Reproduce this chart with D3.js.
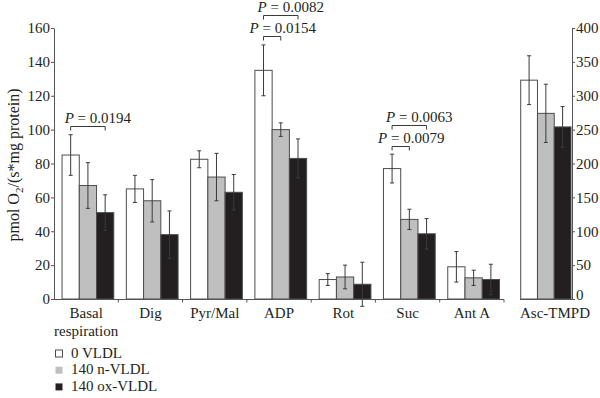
<!DOCTYPE html>
<html>
<head>
<meta charset="utf-8">
<script src="https://cdn.jsdelivr.net/npm/d3@7"></script>
<style>
  body { margin: 0; background: #fff; }
  svg { display: block; font-family: "Liberation Serif", "DejaVu Serif", serif; }
  .axis path, .axis line { stroke: #555; }
  .axis text { font-family: "Liberation Serif", serif; font-size: 15px; fill: #231f20; }
</style>
</head>
<body>
<svg id="chart" width="600" height="398"></svg>
<script>
// categories on the left axis and the one on the right axis
const categories = ['Basal\nrespiration', 'Dig', 'Pyr/Mal', 'ADP', 'Rot', 'Suc', 'Ant A']
const rightCategory = 'Asc-TMPD'
const series = ['0 VLDL', '140 n-VLDL', '140 ox-VLDL']
const colors = ['#ffffff', '#bfbfbf', '#231f20']

// means and error (± SD) per series, left axis
const vldl0 = [85, 65, 82.5, 135, 11.5, 77, 19]
const vldlN = [67, 58, 72, 100, 13, 47, 12.5]
const vldlOx = [51, 38, 63, 83, 8.7, 38.5, 11.5]
const err0 = [12, 8, 5, 15, 3.5, 8.5, 9]
const errN = [13.5, 12.5, 14, 4, 7, 6, 4.5]
const errOx = [10.5, 14, 10.5, 11.5, 13, 9, 9]

// Asc-TMPD, right axis
const ascMeans = [323, 274, 254]
const ascErr = [36, 43, 30]

const leftTicks = [0, 20, 40, 60, 80, 100, 120, 140, 160]
const rightTicks = [0, 50, 100, 150, 200, 250, 300, 350, 400]

// significance brackets: category, compared series index, p value
const comparisons = [
  {cat: 'Basal\nrespiration', to: 2, p: '0.0194'},
  {cat: 'ADP', to: 1, p: '0.0154'},
  {cat: 'ADP', to: 2, p: '0.0082'},
  {cat: 'Suc', to: 1, p: '0.0079'},
  {cat: 'Suc', to: 2, p: '0.0063'}
]

const means = [vldl0, vldlN, vldlOx]
const errs = [err0, errN, errOx]

const svg = d3.select('#chart')
const yL = d3.scaleLinear().domain([0, 160]).range([299, 28])
const yR = d3.scaleLinear().domain([0, 400]).range([299, 28])
const x0 = d3.scaleBand().domain(categories).range([54, 504]).padding(0)
const bw = x0.bandwidth()
const x1 = d3.scaleBand().domain([0, 1, 2]).range([bw * 0.125, bw * 0.93])
const xr = d3.scaleBand().domain([rightCategory]).range([520, 572])
const x1r = d3.scaleBand().domain([0, 1, 2]).range([0.7, 51])

const rows = []
categories.forEach((c, i) => series.forEach((s, j) => rows.push({
  x: x0(c) + x1(j), w: x1.bandwidth(), v: means[j][i], e: errs[j][i], j, y: yL
})))
ascMeans.forEach((v, j) => rows.push({
  x: xr(rightCategory) + x1r(j), w: x1r.bandwidth(), v, e: ascErr[j], j, y: yR
}))

// bars
svg.append('g').selectAll('rect').data(rows).join('rect')
  .attr('x', d => d.x).attr('width', d => d.w)
  .attr('y', d => d.y(d.v)).attr('height', d => d.y(0) - d.y(d.v))
  .attr('fill', d => colors[d.j]).attr('stroke', '#4d4d4d').attr('stroke-width', 1)

// error bars
const eb = svg.append('g').attr('stroke', '#3a3a3a').attr('stroke-width', 1)
  .selectAll('g').data(rows).join('g')
  .attr('transform', d => `translate(${d.x + d.w / 2},0)`)
eb.append('line').attr('y1', d => d.y(d.v + d.e)).attr('y2', d => d.y(d.v - d.e))
eb.append('line').attr('x1', -2).attr('x2', 2).attr('y1', d => d.y(d.v + d.e)).attr('y2', d => d.y(d.v + d.e))
eb.append('line').attr('x1', -2).attr('x2', 2).attr('y1', d => d.y(d.v - d.e)).attr('y2', d => d.y(d.v - d.e))

// axes
svg.append('g').attr('class', 'axis').attr('transform', 'translate(54,0)')
  .call(d3.axisLeft(yL).tickValues(leftTicks).tickSize(3).tickSizeOuter(0).tickPadding(1))
svg.append('g').attr('class', 'axis').attr('transform', 'translate(572,0)')
  .call(d3.axisRight(yR).tickValues(rightTicks).tickSize(3).tickSizeOuter(0).tickPadding(1))
  .selectAll('.tick text').filter(d => d === 0).attr('dy', '0.05em')

const bottom = svg.append('g').attr('stroke', '#555')
bottom.append('line').attr('x1', 54).attr('x2', 504).attr('y1', 299.5).attr('y2', 299.5)
bottom.append('line').attr('x1', 520).attr('x2', 572).attr('y1', 299.5).attr('y2', 299.5)
bottom.selectAll('line.tk').data(categories).join('line').attr('class', 'tk')
  .attr('x1', d => x0(d) + bw).attr('x2', d => x0(d) + bw)
  .attr('y1', 299.5).attr('y2', 302.5)

// category labels
const labels = categories.map(c => ({text: c, x: x0(c) + bw / 2, anchor: 'middle'}))
  .concat([{text: rightCategory, x: xr(rightCategory), anchor: 'start'}])
svg.append('g').selectAll('text').data(labels).join('text')
  .attr('text-anchor', d => d.anchor).attr('font-size', 15).attr('fill', '#231f20')
  .selectAll('tspan').data(d => d.text.split('\n').map((t, k) => ({t, k, x: d.x}))).join('tspan')
  .attr('x', d => d.x).attr('y', d => 318 + d.k * 17.5).text(d => d.t)

// y title
const title = svg.append('text').attr('transform', 'translate(19,165) rotate(-90)')
  .attr('text-anchor', 'middle').attr('font-size', 16).attr('fill', '#231f20')
title.append('tspan').text('pmol O')
title.append('tspan').attr('font-size', 11).attr('dy', 4).text('2')
title.append('tspan').attr('dy', -4).text('/(s*mg protein)')

// significance brackets
const levelCount = {}
comparisons.forEach(c => {
  const i = categories.indexOf(c.cat)
  const lvl = levelCount[c.cat] = (levelCount[c.cat] ?? -1) + 1
  const xa = x0(c.cat) + x1(0) + x1.bandwidth() / 2
  const xb = x0(c.cat) + x1(c.to) + x1.bandwidth() / 2
  const ly = Math.round(yL(vldl0[i] + err0[i]) - 8.5 - lvl * 21) + 0.5
  svg.append('path')
    .attr('d', `M${xa},${ly + 4}V${ly}H${xb}V${ly + 4}`)
    .attr('fill', 'none').attr('stroke', '#3a3a3a')
  const t = svg.append('text').attr('x', xa - (c.to === 1 ? 14 : 6)).attr('y', ly - 4)
    .attr('font-size', 15).attr('fill', '#231f20')
  t.append('tspan').attr('font-style', 'italic').text('P')
  t.append('tspan').text(' = ' + c.p)
})

// legend
const lg = svg.append('g').selectAll('g').data(series).join('g')
  .attr('transform', (d, i) => `translate(55,${357.5 + i * 16.7})`)
lg.append('rect').attr('x', 0.5).attr('y', -7.5).attr('width', 7).attr('height', 7)
  .attr('fill', (d, i) => colors[i]).attr('stroke', (d, i) => i === 0 ? '#4d4d4d' : 'none')
lg.append('text').attr('x', 16).attr('font-size', 15).attr('fill', '#231f20').text(d => d)
</script>
</body>
</html>
